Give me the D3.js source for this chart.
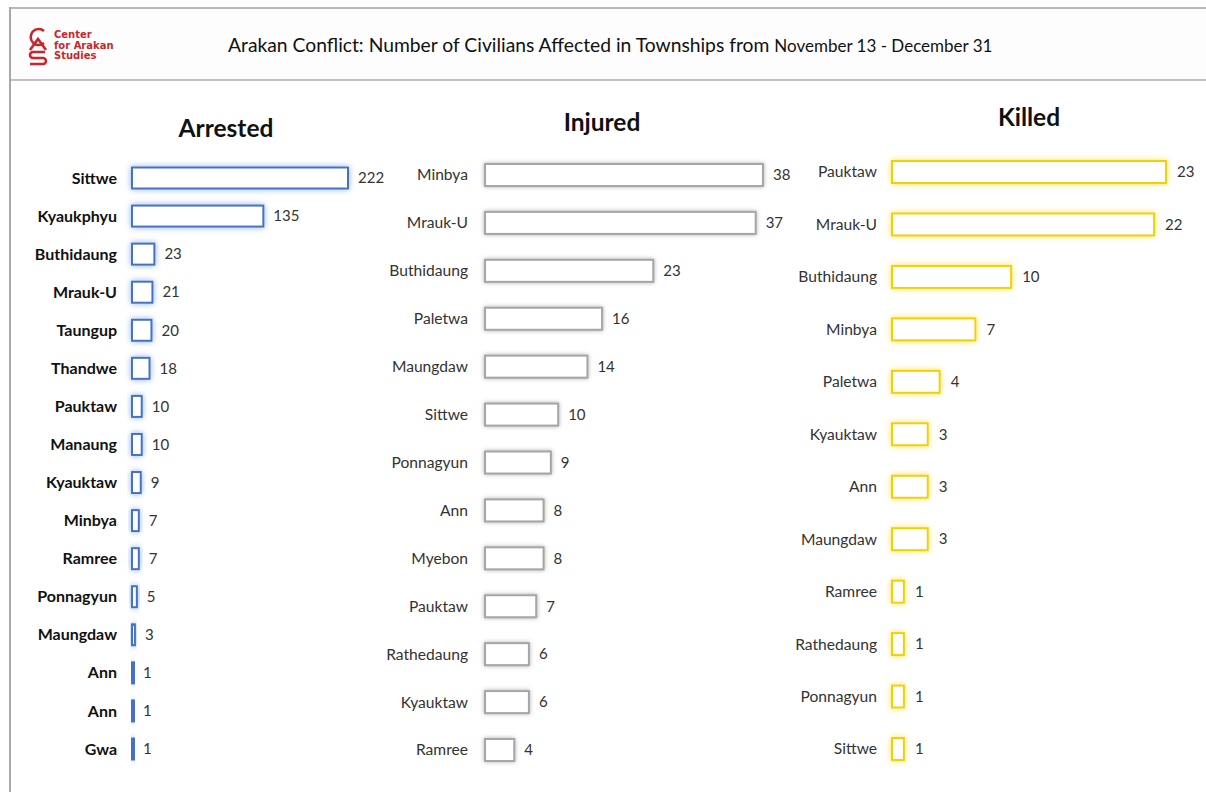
<!DOCTYPE html>
<html>
<head>
<meta charset="utf-8">
<script src="https://cdn.jsdelivr.net/npm/d3@7"></script>
<style>
  body { margin: 0; background: #fff; }
  svg { display: block; font-family: Lato, "Open Sans", sans-serif; }
</style>
</head>
<body>
<svg id="chart" width="1206" height="792"></svg>
<script>
// civilians affected per township, Nov 13 - Dec 31
const arrestedNames = ["Sittwe", "Kyaukphyu", "Buthidaung", "Mrauk-U", "Taungup", "Thandwe", "Pauktaw", "Manaung", "Kyauktaw", "Minbya", "Ramree", "Ponnagyun", "Maungdaw", "Ann", "Ann", "Gwa"];
const arrestedValues = [222, 135, 23, 21, 20, 18, 10, 10, 9, 7, 7, 5, 3, 1, 1, 1];

const injuredNames = ["Minbya", "Mrauk-U", "Buthidaung", "Paletwa", "Maungdaw", "Sittwe", "Ponnagyun", "Ann", "Myebon", "Pauktaw", "Rathedaung", "Kyauktaw", "Ramree"];
const injuredValues = [38, 37, 23, 16, 14, 10, 9, 8, 8, 7, 6, 6, 4];

const killedNames = ["Pauktaw", "Mrauk-U", "Buthidaung", "Minbya", "Paletwa", "Kyauktaw", "Ann", "Maungdaw", "Ramree", "Rathedaung", "Ponnagyun", "Sittwe"];
const killedValues = [23, 22, 10, 7, 4, 3, 3, 3, 1, 1, 1, 1];

const panelTitles = ["Arrested", "Injured", "Killed"];

var svg = d3.select("#chart");

// frame + header
svg.append("rect").attr("x", 10).attr("y", 8).attr("width", 1200).attr("height", 72)
    .attr("fill", "#fdfdfd");
svg.append("line").attr("x1", 10).attr("x2", 1206).attr("y1", 8).attr("y2", 8)
    .attr("stroke", "#b8b8b8").attr("stroke-width", 2);
svg.append("line").attr("x1", 10).attr("x2", 1206).attr("y1", 80).attr("y2", 80)
    .attr("stroke", "#c0c0c0").attr("stroke-width", 2);
svg.append("line").attr("x1", 10).attr("x2", 10).attr("y1", 7).attr("y2", 792)
    .attr("stroke", "#a8a8a8").attr("stroke-width", 2);

// logo
var logo = svg.append("g").attr("fill", "none").attr("stroke", "#c9262c").attr("stroke-width", 2.6);
logo.append("path").attr("d", "M44,31 A8,8 0 1 0 44,43");
logo.append("path").attr("d", "M30,50 L38,39 L46,50");
logo.append("path").attr("d", "M45,52 L33,52 A3,3 0 0 0 33,58 L43,58 A3,3 0 0 1 43,64 L30,64");
var logoText = svg.append("g").attr("fill", "#c9262c").attr("font-size", 10)
    .attr("font-weight", "bold").attr("font-family", "'DejaVu Sans', sans-serif");
["Center", "for Arakan", "Studies"].forEach(function(t, i) {
  logoText.append("text").attr("x", 54).attr("y", 38 + i * 10.5).text(t);
});

var title = svg.append("text").attr("x", 228).attr("y", 52)
    .attr("font-size", 19.3).attr("fill", "#111")
    .attr("font-family", "Lato, sans-serif");
title.append("tspan").text("Arakan Conflict: Number of Civilians Affected in Townships from ");
title.append("tspan").attr("font-size", 17).text("November 13 - December 31");

// glow filters
var defs = svg.append("defs");
function glow(id, color, dev) {
  var f = defs.append("filter").attr("id", id)
      .attr("x", "-50%").attr("y", "-50%").attr("width", "200%").attr("height", "200%");
  f.append("feGaussianBlur").attr("in", "SourceAlpha").attr("stdDeviation", dev).attr("result", "b");
  f.append("feFlood").attr("flood-color", color).attr("result", "c");
  f.append("feComposite").attr("in", "c").attr("in2", "b").attr("operator", "in").attr("result", "g");
  var m = f.append("feMerge");
  m.append("feMergeNode").attr("in", "g");
  m.append("feMergeNode").attr("in", "SourceGraphic");
}
glow("glowBlue", "#8fb2f0", 3);
glow("glowGray", "#b0b0b0", 2);
glow("glowYellow", "#ffe45c", 3);

var panels = [
  { title: panelTitles[0], names: arrestedNames, values: arrestedValues, x0: 132, x1: 348, max: 222,
    y0: 178, y1: 749, h: 21, stroke: "#4472c4", filter: "glowBlue", bold: true, labelGap: 15, valGap: 10,
    tx: 226, ty: 137 },
  { title: panelTitles[1], names: injuredNames, values: injuredValues, x0: 485, x1: 763, max: 38,
    y0: 175, y1: 750, h: 22, stroke: "#a6a6a6", filter: "glowGray", bold: false, labelGap: 17, valGap: 10,
    tx: 602, ty: 131 },
  { title: panelTitles[2], names: killedNames, values: killedValues, x0: 892, x1: 1166, max: 23,
    y0: 172, y1: 749, h: 22, stroke: "#f5d000", filter: "glowYellow", bold: false, labelGap: 15, valGap: 11,
    tx: 1029, ty: 126 }
];

panels.forEach(function(p) {
  var x = d3.scaleLinear().domain([0, p.max]).range([p.x0, p.x1]);
  var y = d3.scalePoint().domain(d3.range(p.names.length)).range([p.y0, p.y1]);
  var g = svg.append("g");

  g.append("text").attr("x", p.tx).attr("y", p.ty).attr("text-anchor", "middle")
      .attr("font-size", 24.5).attr("font-weight", "bold").attr("fill", "#111")
      .text(p.title);

  var rows = g.selectAll("g.row").data(p.values).enter().append("g").attr("class", "row");

  rows.append("rect")
      .attr("x", x(0))
      .attr("y", function(d, i) { return y(i) - p.h / 2; })
      .attr("width", function(d) { return Math.max(x(d) - x(0), 2); })
      .attr("height", p.h)
      .attr("fill", "#fff")
      .attr("stroke", p.stroke)
      .attr("stroke-width", 2)
      .attr("filter", "url(#" + p.filter + ")");

  rows.append("text")
      .attr("x", x(0) - p.labelGap)
      .attr("y", function(d, i) { return y(i); })
      .attr("dy", "0.35em")
      .attr("text-anchor", "end")
      .attr("font-size", p.bold ? 16 : 15.6)
      .attr("font-weight", p.bold ? "bold" : "normal")
      .attr("fill", p.bold ? "#111" : "#333")
      .text(function(d, i) { return p.names[i]; });

  rows.append("text")
      .attr("x", function(d) { return x(d) + p.valGap; })
      .attr("y", function(d, i) { return y(i); })
      .attr("dy", "0.35em")
      .attr("font-size", 15)
      .attr("fill", "#333")
      .text(function(d) { return d; });
});
</script>
</body>
</html>
